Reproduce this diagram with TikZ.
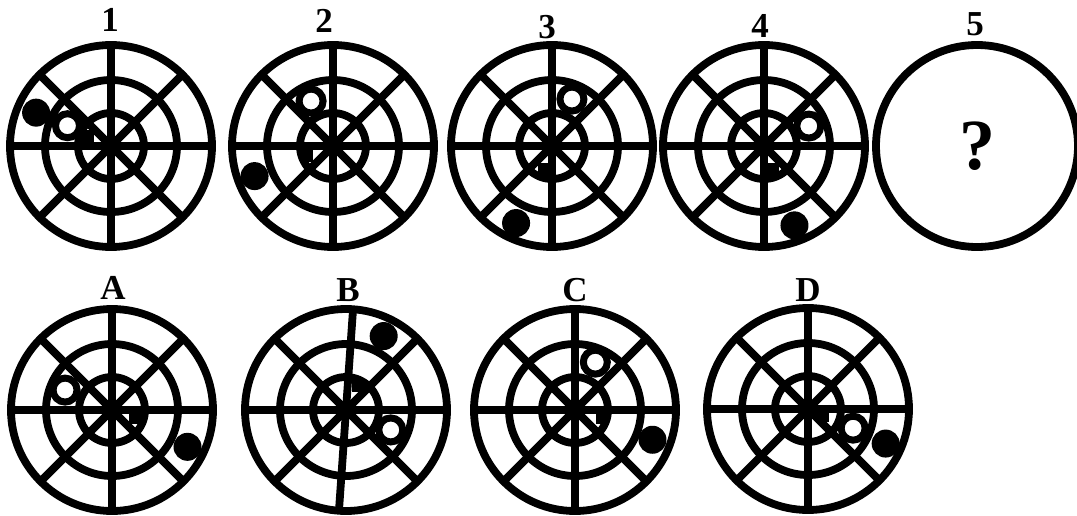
\documentclass[tikz,border=0pt]{standalone}
\usepackage{fontspec}
\setmainfont{Liberation Serif}
\begin{document}
\begin{tikzpicture}[x=1pt,y=-1pt,
  ink/.style={line width=7.8pt, draw=black},
  blackdot/.style={circle, fill=black, minimum size=28pt, inner sep=0pt},
  whitedot/.style={circle, draw=black, line width=7pt, fill=white, minimum size=24pt, inner sep=0pt},
  markbox/.style={rectangle, fill=black, minimum size=12pt, inner sep=0pt},
  lbl/.style={font=\fontsize{35}{35}\selectfont\bfseries, inner sep=0pt},
  rings/.pic={
    \draw[ink] (0,0) circle[radius=101pt] (0,0) circle[radius=66pt] (0,0) circle[radius=33pt];
    \draw[ink] (0:101pt) -- (180:101pt);
    \draw[ink] (45:101pt) -- (225:101pt);
    \draw[ink] (135:101pt) -- (315:101pt);
  },
  wheel/.pic={
    \pic {rings};
    \draw[ink] (90:101pt) -- (270:101pt);
  },
  tiltwheel/.pic={
    \pic {rings};
    \draw[ink] (86:101pt) -- (266:101pt);
  }]
\useasboundingbox[fill=white] (0,0) rectangle (1077,515);

% centres
\coordinate (c1) at (111,146);
\coordinate (c2) at (333,146);
\coordinate (c3) at (552,146);
\coordinate (c4) at (764,146);
\coordinate (c5) at (977,146);
\coordinate (cA) at (112,410);
\coordinate (cB) at (346,410);
\coordinate (cC) at (575,410);
\coordinate (cD) at (808,409);

% labels
\node[lbl] (l1) at (110,20) {1};
\node[lbl] (l2) at (324,21) {2};
\node[lbl] (l3) at (547,27) {3};
\node[lbl] (l4) at (760,26) {4};
\node[lbl] (l5) at (975,24) {5};
\node[lbl] (lA) at (113,288) {A};
\node[lbl] (lB) at (348,290) {B};
\node[lbl] (lC) at (575,290) {C};
\node[lbl] (lD) at (808,290) {D};

% wheels
\pic at (c1) {wheel};
\pic at (c2) {wheel};
\pic at (c3) {wheel};
\pic at (c4) {wheel};
\pic at (cA) {wheel};
\pic at (cB) {tiltwheel};
\pic at (cC) {wheel};
\pic at (cD) {wheel};
\draw[ink] (c5) circle[radius=101pt];
\node[font=\fontsize{72}{72}\selectfont\bfseries] (q) at (c5) {?};

% figure 1
\path (c1) ++(157:25pt) node[markbox] (m1) {};
\path (c1) ++(155:48pt) node[whitedot] (w1) {};
\path (c1) ++(156:82pt) node[blackdot] (b1) {};
% figure 2
\path (c2) ++(200:28pt) node[markbox] (m2) {};
\path (c2) ++(116:50pt) node[whitedot] (w2) {};
\path (c2) ++(201:84pt) node[blackdot] (b2) {};
% figure 3
\path (c3) ++(251:24pt) node[markbox] (m3) {};
\path (c3) ++(67:51pt) node[whitedot] (w3) {};
\path (c3) ++(245:85pt) node[blackdot] (b3) {};
% figure 4
\path (c4) ++(290:25pt) node[markbox] (m4) {};
\path (c4) ++(24:49pt) node[whitedot] (w4) {};
\path (c4) ++(291:85pt) node[blackdot] (b4) {};
% A
\path (cA) ++(-19:24pt) node[markbox] (mA) {};
\path (cA) ++(157:51pt) node[whitedot] (wA) {};
\path (cA) ++(-26:84pt) node[blackdot] (bA) {};
% B
\path (cB) ++(63:27pt) node[markbox] (mB) {};
\path (cB) ++(-24:49pt) node[whitedot] (wB) {};
\path (cB) ++(63:83pt) node[blackdot] (bB) {};
% C
\path (cC) ++(-17:28pt) node[markbox] (mC) {};
\path (cC) ++(67:52pt) node[whitedot] (wC) {};
\path (cC) ++(-21:83pt) node[blackdot] (bC) {};
% D
\path (cD) ++(-25:17pt) node[markbox] (mD) {};
\path (cD) ++(-23:49pt) node[whitedot] (wD) {};
\path (cD) ++(-24:85pt) node[blackdot] (bD) {};
\end{tikzpicture}
\end{document}
